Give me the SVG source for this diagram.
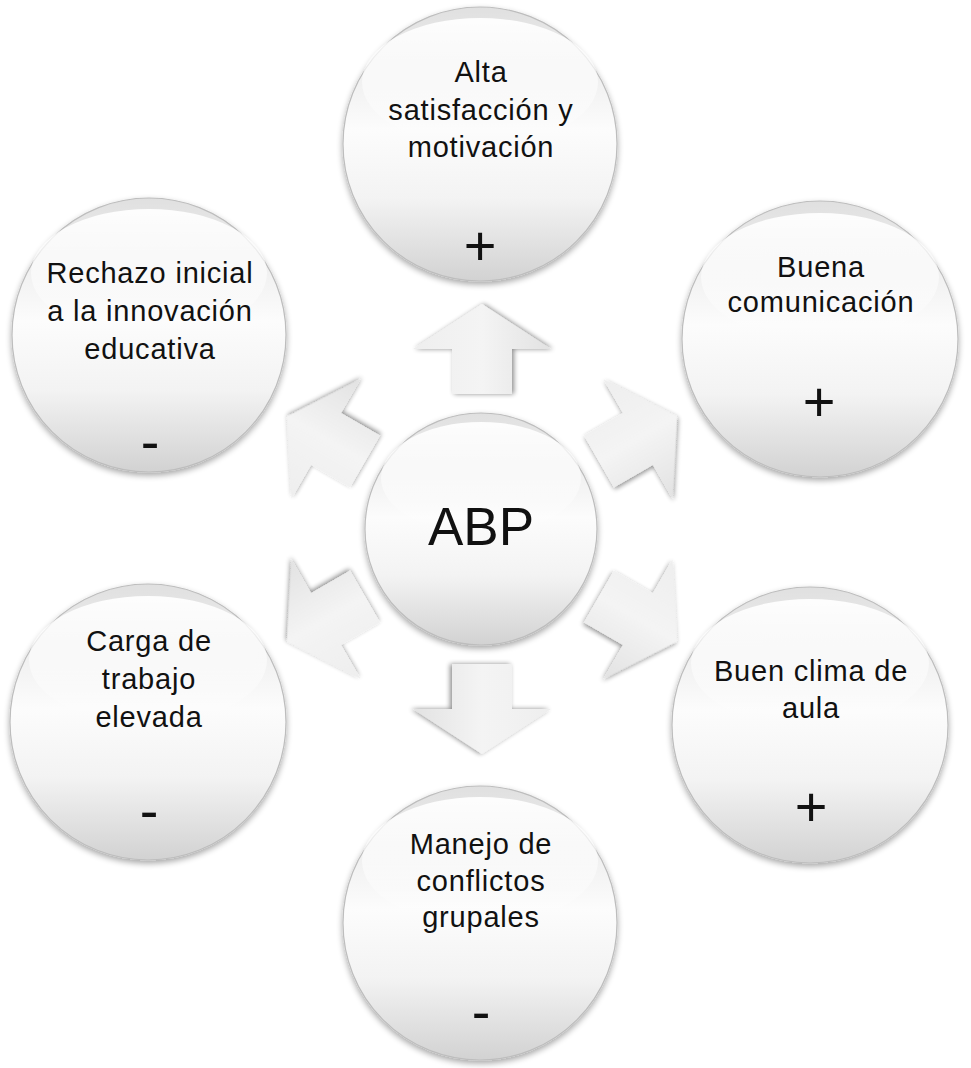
<svg xmlns="http://www.w3.org/2000/svg" width="971" height="1068" viewBox="0 0 971 1068">
<style>
.lbl{font-family:"Liberation Sans",Arial,sans-serif;font-size:29px;letter-spacing:0.8px;fill:#111;text-anchor:middle}
.sym{font-family:"Liberation Sans",Arial,sans-serif;font-size:56px;fill:#111;text-anchor:middle}
.big{font-family:"Liberation Sans",Arial,sans-serif;font-size:53px;fill:#111;text-anchor:middle}
.ball{fill:url(#ballFill);stroke:#bdbdbd;stroke-width:1.2;filter:url(#shadow)}
.gloss{fill:url(#glossFill)}
.arrow{fill:url(#arrowFill);filter:url(#ashadow)}
</style>
<defs>
<linearGradient id="ballFill" x1="0" y1="0" x2="0" y2="1">
<stop offset="0" stop-color="#e0e0e0"/>
<stop offset="0.45" stop-color="#fcfcfc"/>
<stop offset="0.7" stop-color="#f3f3f3"/>
<stop offset="1" stop-color="#d2d2d2"/>
</linearGradient>
<linearGradient id="glossFill" x1="0" y1="0" x2="0" y2="1">
<stop offset="0" stop-color="#ffffff" stop-opacity="0.95"/>
<stop offset="0.6" stop-color="#ffffff" stop-opacity="0.5"/>
<stop offset="1" stop-color="#ffffff" stop-opacity="0"/>
</linearGradient>
<linearGradient id="arrowFill" x1="0" y1="0" x2="0" y2="1">
<stop offset="0" stop-color="#eeeeee"/>
<stop offset="0.5" stop-color="#f4f4f4"/>
<stop offset="1" stop-color="#e2e2e2"/>
</linearGradient>
<filter id="shadow" x="-10%" y="-10%" width="120%" height="125%">
<feGaussianBlur in="SourceAlpha" stdDeviation="3"/>
<feOffset dy="3" result="b"/>
<feComponentTransfer><feFuncA type="linear" slope="0.35"/></feComponentTransfer>
<feMerge><feMergeNode/><feMergeNode in="SourceGraphic"/></feMerge>
</filter>
<filter id="ashadow" x="-20%" y="-20%" width="140%" height="140%">
<feGaussianBlur in="SourceAlpha" stdDeviation="2.5"/>
<feOffset dy="2" result="b"/>
<feComponentTransfer><feFuncA type="linear" slope="0.45"/></feComponentTransfer>
<feMerge><feMergeNode/><feMergeNode in="SourceGraphic"/></feMerge>
</filter>
<path id="arr" d="M135,-30 L180,-30 L180,-69 L225,0 L180,69 L180,30 L135,30 Z"/>
</defs>
<rect width="971" height="1068" fill="#ffffff"/>
<g id="connectors">
<g transform="translate(482,529)">
<use href="#arr" class="arrow" transform="rotate(-90)"/>
<use href="#arr" class="arrow" transform="rotate(-30)"/>
<use href="#arr" class="arrow" transform="rotate(30)"/>
<use href="#arr" class="arrow" transform="rotate(90)"/>
<use href="#arr" class="arrow" transform="rotate(150)"/>
<use href="#arr" class="arrow" transform="rotate(210)"/>
</g>
</g>
<g id="node-abp">
<circle class="ball" cx="481" cy="529" r="116"/>
<ellipse class="gloss" cx="481" cy="478" rx="100" ry="56"/>
<text class="big" x="481" y="545">ABP</text>
</g>
<g id="node-satisfaccion">
<circle class="ball" cx="480" cy="144" r="137"/>
<ellipse class="gloss" cx="480" cy="82" rx="118" ry="64"/>
<text class="lbl" x="481" y="82">Alta</text>
<text class="lbl" x="481" y="120">satisfacción y</text>
<text class="lbl" x="481" y="157">motivación</text>
<text class="sym" x="480" y="265">+</text>
</g>
<g id="node-comunicacion">
<circle class="ball" cx="820" cy="339" r="138"/>
<ellipse class="gloss" cx="820" cy="277" rx="119" ry="64"/>
<text class="lbl" x="821" y="277">Buena</text>
<text class="lbl" x="821" y="312">comunicación</text>
<text class="sym" x="819" y="421">+</text>
</g>
<g id="node-clima">
<circle class="ball" cx="810" cy="725" r="138"/>
<ellipse class="gloss" cx="810" cy="663" rx="119" ry="64"/>
<text class="lbl" x="811" y="681">Buen clima de</text>
<text class="lbl" x="811" y="718">aula</text>
<text class="sym" x="811" y="826">+</text>
</g>
<g id="node-conflictos">
<circle class="ball" cx="480" cy="923" r="137"/>
<ellipse class="gloss" cx="480" cy="861" rx="118" ry="64"/>
<text class="lbl" x="481" y="854">Manejo de</text>
<text class="lbl" x="481" y="891">conflictos</text>
<text class="lbl" x="481" y="927">grupales</text>
<text class="sym" x="481" y="1031">-</text>
</g>
<g id="node-carga">
<circle class="ball" cx="148" cy="722" r="138"/>
<ellipse class="gloss" cx="148" cy="660" rx="119" ry="64"/>
<text class="lbl" x="149" y="651">Carga de</text>
<text class="lbl" x="149" y="689">trabajo</text>
<text class="lbl" x="149" y="727">elevada</text>
<text class="sym" x="149" y="830">-</text>
</g>
<g id="node-rechazo">
<circle class="ball" cx="149" cy="335" r="137"/>
<ellipse class="gloss" cx="149" cy="273" rx="118" ry="64"/>
<text class="lbl" x="150" y="283">Rechazo inicial</text>
<text class="lbl" x="150" y="321">a la innovación</text>
<text class="lbl" x="150" y="359">educativa</text>
<text class="sym" x="150" y="461">-</text>
</g>
</svg>
